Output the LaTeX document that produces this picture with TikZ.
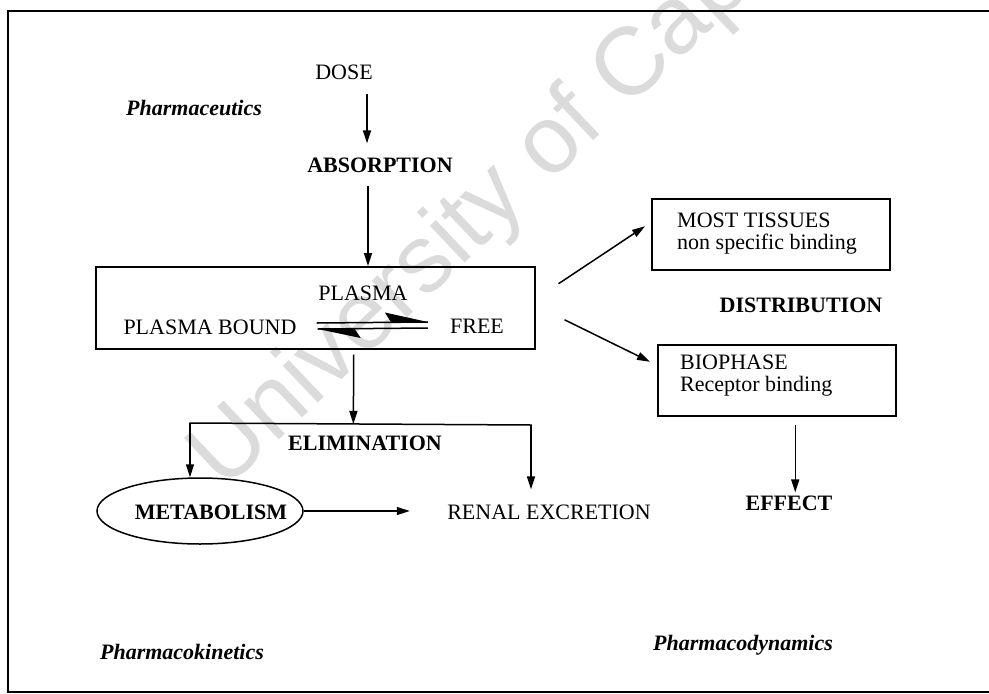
\documentclass[tikz,border=0pt]{standalone}
\usepackage{fontspec}
\setmainfont{Liberation Serif}
\newfontfamily\markfont{Liberation Sans}
\usetikzlibrary{arrows.meta,shapes.geometric,calc}

\tikzset{
  txt/.style={inner sep=0pt, font=\fontsize{22}{22}\selectfont},
  btxt/.style={inner sep=0pt, font=\fontsize{22}{22}\selectfont\bfseries},
  itxt/.style={inner sep=0pt, font=\fontsize{22}{22}\selectfont\bfseries\itshape},
  boxed/.style={draw, line width=1.5pt, inner sep=0pt},
  ln/.style={line width=1.5pt},
  arr/.style={line width=1.5pt, -{Triangle[length=13pt,width=8pt]}},
  barb/.style={fill=black, draw=none},
  watermark/.style={inner sep=0pt, text=black!14, font=\markfont\fontsize{96}{96}\selectfont},
}

\begin{document}
\begin{tikzpicture}[x=1pt,y=-1pt]
\useasboundingbox (0,0) rectangle (989,694);

% faint watermark behind the chart
\begin{scope}
  \clip (0,0) rectangle (989,694);
  \node[watermark, rotate=43.5, anchor=base west] (mark) at (224,492) {University of Cape Town};
\end{scope}

% outer frame
\draw[ln] (995,11) -- (8,11) -- (8,692) -- (995,692);

% pharmaceutics
\node[txt]  (dose)   at (344,72)  {DOSE};
\node[itxt] (pceut)  at (194,108) {Pharmaceutics};
\node[btxt] (absorb) at (380,165) {ABSORPTION};

% plasma compartment
\node[boxed, anchor=north west, minimum width=439pt, minimum height=82pt] (plasma) at (95,266) {};
\node[txt] (plasmalbl) at (363,293) {PLASMA};
\node[txt] (bound) at (210,327) {PLASMA BOUND};
\node[txt] (free)  at (477,326) {FREE};

% equilibrium half-arrows between bound and free
\coordinate (eqL) at ($(bound.east)+(20,-4)$);
\coordinate (eqR) at ($(free.west)+(-22,-4)$);
\draw[ln] (eqL) -- (eqR);
\fill[barb] (eqR) -- ++(-43,-9.5) -- ++(6,9.5) -- cycle;
\draw[ln] ($(eqL)+(1,6)$) -- ($(eqR)+(0,6)$);
\fill[barb] ($(eqL)+(1,6)$) -- ++(43,9) -- ++(-6,-9) -- cycle;

% distribution
\node[boxed, anchor=north west, minimum width=238pt, minimum height=71pt] (tissues) at (651,198) {};
\node[txt, align=left, anchor=north west] (tissuestxt) at (677,213) {MOST TISSUES\\non specific binding};
\node[btxt] (distr) at (801,305) {DISTRIBUTION};
\node[boxed, anchor=north west, minimum width=238pt, minimum height=71pt] (bio) at (657,344) {};
\node[txt, align=left, anchor=north west] (biotxt) at (680,355) {BIOPHASE\\Receptor binding};
\node[btxt] (effect) at (789,503) {EFFECT};

% elimination
\node[btxt] (elim) at (365,443) {ELIMINATION};
\node[draw, ellipse, line width=1.5pt, minimum width=206pt, minimum height=66pt, inner sep=0pt] (metab) at (200,511) {};
\node[btxt] (metabtxt) at (211,512) {METABOLISM};
\node[txt] (renal) at (549,512) {RENAL EXCRETION};

% section labels
\node[itxt] (pkin) at (182,652) {Pharmacokinetics};
\node[itxt] (pdyn) at (743,645) {Pharmacodynamics};

% connectors
\coordinate (a1) at ($(dose.south)+(23,14)$);
\draw[arr] (a1) -- (a1 |- absorb.north) [shorten >=14pt];
\coordinate (a2) at ($(absorb.south)+(-12,13)$);
\draw[arr] (a2) -- (a2 |- plasma.north);

\coordinate (e0) at ($(plasma.south)+(38.5,5)$);
\coordinate (eL) at (190,423);
\coordinate (eR) at (531,425);
\draw[arr] (e0) -- ($(eL)!(e0)!(eR)$);
\draw[ln, line cap=rect] (eL) -- (eR);
\draw[arr] (eL) -- (eL |- metab.north);
\draw[arr] (eR) -- ($(eR |- renal.north)+(0,-15)$);
\draw[arr] (metab.east) -- ($(metab.east)+(106,0)$);

\coordinate (d1) at ($(plasma.east)+(23,-24)$);
\draw[arr] (d1) -- ($(tissues.west)+(-6,-8)$);
\coordinate (d2) at ($(plasma.east)+(29,12)$);
\draw[arr] (d2) -- ($(bio.west)+(-7,-18.5)$);

\coordinate (b0) at ($(bio.south)+(18.5,8)$);
\draw[arr, shorten >=3pt] (b0) -- (b0 |- effect.north);
\end{tikzpicture}
\end{document}
